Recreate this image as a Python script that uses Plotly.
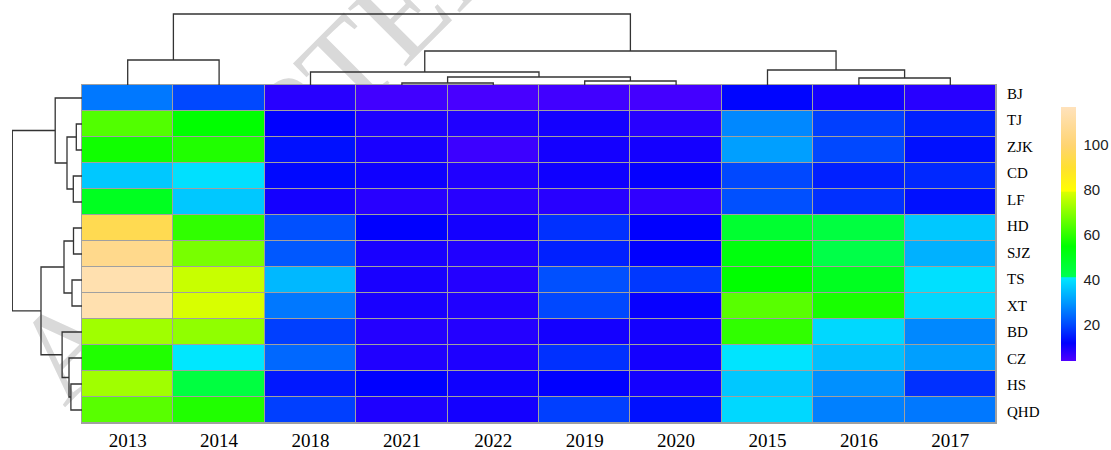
import plotly.graph_objects as go

W, H = 1111, 450

col_labels = ["2013", "2014", "2018", "2021", "2022", "2019", "2020", "2015", "2016", "2017"]
row_labels = ["BJ", "TJ", "ZJK", "CD", "LF", "HD", "SJZ", "TS", "XT", "BD", "CZ", "HS", "QHD"]

# values per row, columns in the order of col_labels
v_BJ = [26, 20, 8, 5.5, 4.8, 5.5, 5.2, 12.5, 10, 8]
v_TJ = [64, 55, 12, 9, 8.8, 10, 8, 28, 19, 15.6]
v_ZJK = [56.8, 58.5, 13.8, 9.5, 6, 10, 10, 31, 20, 13.8]
v_CD = [36.6, 39.9, 12.9, 10.5, 8.8, 10.5, 11.5, 20, 15.6, 16.4]
v_LF = [49.6, 36.6, 10, 8, 8, 8, 7.2, 21, 17.3, 13.8]
v_HD = [95, 60.3, 21, 12, 10, 17.3, 12, 47, 44.3, 36.6]
v_SJZ = [106, 68.3, 22, 9.5, 8.8, 15.6, 12, 52.9, 43, 33.4]
v_TS = [114, 77.2, 34.4, 9.5, 8.4, 21, 18.2, 55, 49.6, 39.9]
v_XT = [114, 79, 26, 9.5, 8.8, 20, 11.3, 64.8, 57.7, 38.8]
v_BD = [72.8, 71, 19, 8.4, 8.4, 10, 10, 60.3, 38.8, 28]
v_CZ = [58.5, 40.8, 24, 8.8, 9, 17.3, 10, 40.5, 35.5, 31]
v_HS = [72.8, 44.3, 14.7, 12, 10.5, 12, 10, 36.6, 29, 17.3]
v_QHD = [64.8, 58.5, 19, 9, 10, 19, 13.8, 38.8, 27, 26]
values = [v_BJ, v_TJ, v_ZJK, v_CD, v_LF, v_HD, v_SJZ, v_TS, v_XT, v_BD, v_CZ, v_HS, v_QHD]

# hierarchical clustering merges: [left id, right id, height]; leaves 0..n-1, merge k -> id n+k
col_linkage = [[3, 4, 2], [5, 6, 4], [8, 9, 7], [10, 11, 8], [2, 13, 13],
               [7, 12, 15], [14, 15, 34], [0, 1, 25], [17, 16, 71]]
row_linkage = [[1, 2, 5.7], [3, 4, 8.7], [5, 6, 8.5], [7, 8, 10], [11, 12, 11.1],
               [10, 17, 13], [13, 14, 15], [15, 16, 18], [9, 18, 19.9], [0, 19, 26.8],
               [20, 21, 41], [22, 23, 69.7]]

# colour scale stops (value, colour)
cs_values = [4, 12, 20, 30, 41, 41.6, 55, 79, 79.6, 90, 100, 117]
cs_colors = ["#5000ff", "#0000ff", "#0048ff", "#0098ff", "#00e8ff", "#00ff50",
             "#00ff00", "#d8ff00", "#ffff00", "#ffe030", "#ffd472", "#ffe2bc"]
zmin, zmax = 4, 117
colorscale = [[(v - zmin) / (zmax - zmin), c] for v, c in zip(cs_values, cs_colors)]

watermark = "ACCEPTED"


def dendro_segments(linkage, n):
    pos = {i: (float(i), 0.0) for i in range(n)}
    p, h = [], []
    for k, (a, b, ht) in enumerate(linkage):
        pa, ha = pos[a]
        pb, hb = pos[b]
        p += [pa, pa, pb, pb, None]
        h += [ha, ht, ht, hb, None]
        pos[n + k] = ((pa + pb) / 2, ht)
    return p, h


# pixel geometry
hx0, hx1 = 82, 996
hy0, hy1 = 85, 423
px = lambda x: x / W
py = lambda y: 1 - y / H

# row label placement (labels are spread slightly wider than the rows, as in the source)
row_tick_pos = [-0.18 + 1.019 * i for i in range(len(row_labels))]

fig = go.Figure()

fig.add_trace(go.Heatmap(
    z=values, x=col_labels, y=row_labels,
    colorscale=colorscale, zmin=zmin, zmax=zmax,
    xgap=1, ygap=1,
    colorbar=dict(
        x=px(1061), xanchor="left", y=py(107), yanchor="top",
        len=254, lenmode="pixels", thickness=15, thicknessmode="pixels",
        xpad=0, ypad=0, outlinewidth=0,
        tickvals=[20, 40, 60, 80, 100], ticks="outside", ticklen=5,
        tickcolor="rgba(0,0,0,0)",
        tickfont=dict(family="Liberation Sans, Arial", size=15, color="#222"),
    ),
    xaxis="x", yaxis="y",
))

cp, ch = dendro_segments(col_linkage, len(col_labels))
fig.add_trace(go.Scatter(x=cp, y=ch, mode="lines", line=dict(color="#333", width=1.3),
                         xaxis="x2", yaxis="y2", hoverinfo="skip", showlegend=False))
rp, rh = dendro_segments(row_linkage, len(row_labels))
fig.add_trace(go.Scatter(x=rh, y=rp, mode="lines", line=dict(color="#333", width=1.3),
                         xaxis="x3", yaxis="y3", hoverinfo="skip", showlegend=False))

serif = "Liberation Serif, Times New Roman, serif"
hidden = dict(visible=False, automargin=False, showgrid=False, zeroline=False)
fig.update_layout(
    width=W, height=H, margin=dict(l=0, r=0, t=0, b=0, autoexpand=False),
    paper_bgcolor="white", plot_bgcolor="rgba(0,0,0,0)",
    showlegend=False,
    xaxis=dict(domain=[px(hx0), px(hx1)], type="category", range=[-0.5, 9.5],
               automargin=False, showgrid=False, zeroline=False, showline=False,
               ticks="", ticklabelstandoff=4,
               tickfont=dict(family=serif, size=19, color="#000"), anchor="y"),
    yaxis=dict(domain=[py(hy1), py(hy0)], type="category", range=[12.5, -0.5],
               automargin=False, side="right", showgrid=False, zeroline=False, showline=False,
               tickmode="array", tickvals=row_tick_pos, ticktext=row_labels,
               ticks="outside", ticklen=7, tickcolor="rgba(0,0,0,0)",
               tickfont=dict(family=serif, size=15, color="#000"), anchor="x"),
    xaxis2=dict(domain=[px(hx0), px(hx1)], range=[-0.5, 9.5], anchor="y2", **hidden),
    yaxis2=dict(domain=[py(hy0), py(13)], range=[0, 72], anchor="x2", **hidden),
    xaxis3=dict(domain=[px(12), px(hx0)], range=[70, 0], anchor="y3", **hidden),
    yaxis3=dict(domain=[py(hy1), py(hy0)], range=[12.5, -0.5], anchor="x3", **hidden),
    shapes=[
        dict(type="rect", xref="paper", yref="paper", layer="below",
             x0=px(250), x1=px(256), y0=py(143), y1=py(137),
             line=dict(width=0), fillcolor="rgba(0,0,0,0)",
             label=dict(text=watermark, textangle=-45, textposition="middle center",
                        font=dict(family=serif, size=125, color="#d9d9d9"))),
        dict(type="rect", xref="paper", yref="paper", layer="below",
             x0=px(hx0 - 1), x1=px(hx1 + 1), y0=py(hy1 + 1), y1=py(hy0 - 1),
             line=dict(width=0), fillcolor="#a0a0a0"),
    ],
)

fig.write_html("out.html")
